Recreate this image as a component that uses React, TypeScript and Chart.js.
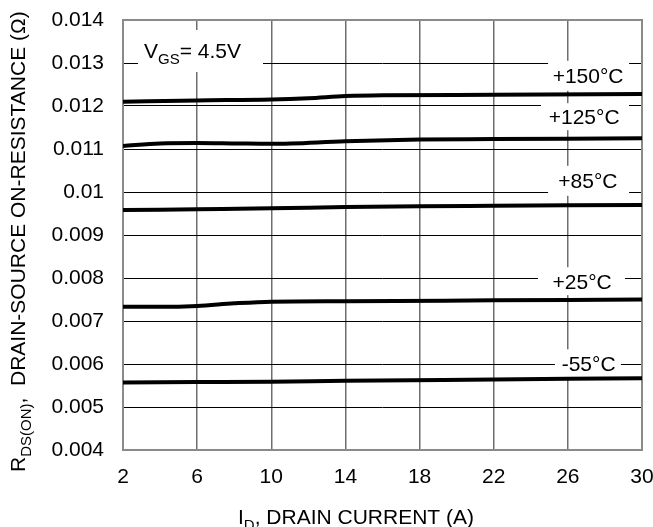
import React, { useEffect, useRef } from 'react';
import { Chart, registerables } from 'chart.js';

Chart.register(...registerables);

// ---------- data ----------
const xTicks = [2, 6, 10, 14, 18, 22, 26, 30];
const yTicks = [0.004, 0.005, 0.006, 0.007, 0.008, 0.009, 0.01, 0.011, 0.012, 0.013, 0.014];
const yTickLabels = ['0.004', '0.005', '0.006', '0.007', '0.008', '0.009', '0.01', '0.011', '0.012', '0.013', '0.014'];

const seriesNames = ['+150°C', '+125°C', '+85°C', '+25°C', '-55°C'];

const x150 = [2, 6, 10, 12, 14, 16, 22, 30];
const y150 = [0.0121, 0.01213, 0.01215, 0.01218, 0.01223, 0.01225, 0.01226, 0.01228];

const x125 = [2, 4, 6, 8, 10, 14, 18, 22, 30];
const y125 = [0.01107, 0.01113, 0.01114, 0.01113, 0.01112, 0.01118, 0.01122, 0.01123, 0.01125];

const x85 = [2, 6, 10, 14, 18, 22, 30];
const y85 = [0.00958, 0.0096, 0.00962, 0.00965, 0.00967, 0.00968, 0.0097];

const x25 = [2, 4, 6, 8, 10, 14, 22, 30];
const y25 = [0.00733, 0.00733, 0.00735, 0.00741, 0.00745, 0.00746, 0.00748, 0.0075];

const xm55 = [2, 6, 10, 14, 22, 30];
const ym55 = [0.00557, 0.00558, 0.00559, 0.00561, 0.00564, 0.00567];

const seriesX = [x150, x125, x85, x25, xm55];
const seriesY = [y150, y125, y85, y25, ym55];

// label anchor positions (data coordinates, text centre)
const labelX = [27.09, 26.88, 27.08, 26.77, 27.12];
const labelY = [0.012702, 0.011752, 0.01026, 0.007926, 0.006016];
const vgsX = 5.75;
const vgsY = 0.013302;

// ---------- styles ----------
const FONT = '"Liberation Sans", Arial, Helvetica, sans-serif';
const MAIN = 21;
const SUB = 15;
const SUB_SHIFT = 6;
const labelBoxW = [81, 88, 81, 87, 66];
const labelBoxH = [30, 27, 30, 28, 28];
const labelBoxDx = [0.5, 0.8, 0.7, -0.7, -0.7];

type Part = { t: string; sub?: boolean };

function partsWidth(ctx: CanvasRenderingContext2D, parts: Part[]) {
  let w = 0;
  for (const p of parts) {
    ctx.font = `${p.sub ? SUB : MAIN}px ${FONT}`;
    w += ctx.measureText(p.t).width;
  }
  return w;
}

function drawParts(ctx: CanvasRenderingContext2D, parts: Part[], x: number, baseline: number) {
  let cx = x;
  ctx.textAlign = 'left';
  ctx.textBaseline = 'alphabetic';
  ctx.fillStyle = '#000';
  for (const p of parts) {
    ctx.font = `${p.sub ? SUB : MAIN}px ${FONT}`;
    ctx.fillText(p.t, cx, baseline + (p.sub ? SUB_SHIFT : 0));
    cx += ctx.measureText(p.t).width;
  }
}

const annotationPlugin = {
  id: 'annot',
  beforeDatasetsDraw(chart: any) {
    const ctx: CanvasRenderingContext2D = chart.ctx;
    const xs = chart.scales.x;
    const ys = chart.scales.y;
    const area = chart.chartArea;
    ctx.save();
    // frame
    ctx.strokeStyle = '#8a8a8a';
    ctx.lineWidth = 2;
    ctx.strokeRect(area.left, area.top, area.right - area.left, area.bottom - area.top);

    // temperature labels
    seriesNames.forEach((name, i) => {
      const cx = xs.getPixelForValue(labelX[i]);
      const cy = ys.getPixelForValue(labelY[i]);
      const w = labelBoxW[i];
      const h = labelBoxH[i];
      ctx.fillStyle = '#fff';
      ctx.fillRect(cx + labelBoxDx[i] - w / 2, cy - h / 2, w, h);
      const parts = [{ t: name }];
      const tw = partsWidth(ctx, parts);
      drawParts(ctx, parts, cx - tw / 2, cy + MAIN * 0.358);
    });

    // VGS label
    const vx = xs.getPixelForValue(vgsX);
    const vy = ys.getPixelForValue(vgsY);
    const vParts: Part[] = [{ t: 'V' }, { t: 'GS', sub: true }, { t: '= 4.5V' }];
    ctx.fillStyle = '#fff';
    ctx.fillRect(vx + 8 - 62.5, vy + 1 - 21, 125, 42);
    const vw = partsWidth(ctx, vParts);
    drawParts(ctx, vParts, vx - vw / 2, vy + MAIN * 0.358);
    ctx.restore();
  },
  afterDraw(chart: any) {
    const ctx: CanvasRenderingContext2D = chart.ctx;
    ctx.save();
    // x title
    const xParts: Part[] = [{ t: 'I' }, { t: 'D', sub: true }, { t: ', DRAIN CURRENT (A)' }];
    drawParts(ctx, xParts, 238, 524);
    // y title
    ctx.translate(25, 472);
    ctx.rotate(-Math.PI / 2);
    const yParts: Part[] = [
      { t: 'R' },
      { t: 'DS(ON)', sub: true },
      { t: ',  DRAIN-SOURCE ON-RESISTANCE (Ω)' },
    ];
    drawParts(ctx, yParts, 0, 0);
    ctx.restore();
  },
};

export default function App() {
  const ref = useRef<HTMLCanvasElement | null>(null);

  useEffect(() => {
    document.body.style.margin = '0';
    if (!ref.current) return;
    const datasets = seriesNames.map((name, i) => ({
      label: name,
      data: seriesX[i].map((x, j) => ({ x, y: seriesY[i][j] })),
      borderColor: '#000',
      borderWidth: 4,
      pointRadius: 0,
      fill: false,
      cubicInterpolationMode: 'monotone' as const,
      borderCapStyle: 'butt' as const,
    }));

    const chart = new Chart(ref.current, {
      type: 'line',
      data: { datasets },
      options: {
        animation: false,
        responsive: false,
        maintainAspectRatio: false,
        layout: { padding: { left: 0, top: 20, right: 11, bottom: 0 } },
        plugins: {
          legend: { display: false },
          tooltip: { enabled: false },
          title: { display: false },
        },
        scales: {
          x: {
            type: 'linear',
            min: 2,
            max: 30,
            afterBuildTicks: (s: any) => {
              s.ticks = xTicks.map((v) => ({ value: v }));
            },
            afterFit: (s: any) => {
              s.height = 77;
              s.paddingLeft = 0;
              s.paddingRight = 0;
            },
            ticks: {
              color: '#000',
              font: { family: FONT, size: MAIN },
              padding: 15,
              maxRotation: 0,
              autoSkip: false,
              callback: (v: any) => String(v),
            },
            grid: { color: '#6e6e6e', lineWidth: 1.5, drawTicks: false },
            border: { display: false },
          },
          y: {
            type: 'linear',
            min: 0.004,
            max: 0.014,
            afterBuildTicks: (s: any) => {
              s.ticks = yTicks.map((v) => ({ value: v }));
            },
            afterFit: (s: any) => {
              s.width = 123;
              s.paddingTop = 0;
              s.paddingBottom = 0;
            },
            ticks: {
              color: '#000',
              font: { family: FONT, size: MAIN },
              padding: 19,
              autoSkip: false,
              callback: (_v: any, i: number) => yTickLabels[i],
            },
            grid: { color: '#000', lineWidth: 1, drawTicks: false },
            border: { display: false },
          },
        },
      },
      plugins: [annotationPlugin],
    });
    return () => chart.destroy();
  }, []);

  return <canvas ref={ref} width={653} height={527} style={{ display: 'block' }} />;
}
